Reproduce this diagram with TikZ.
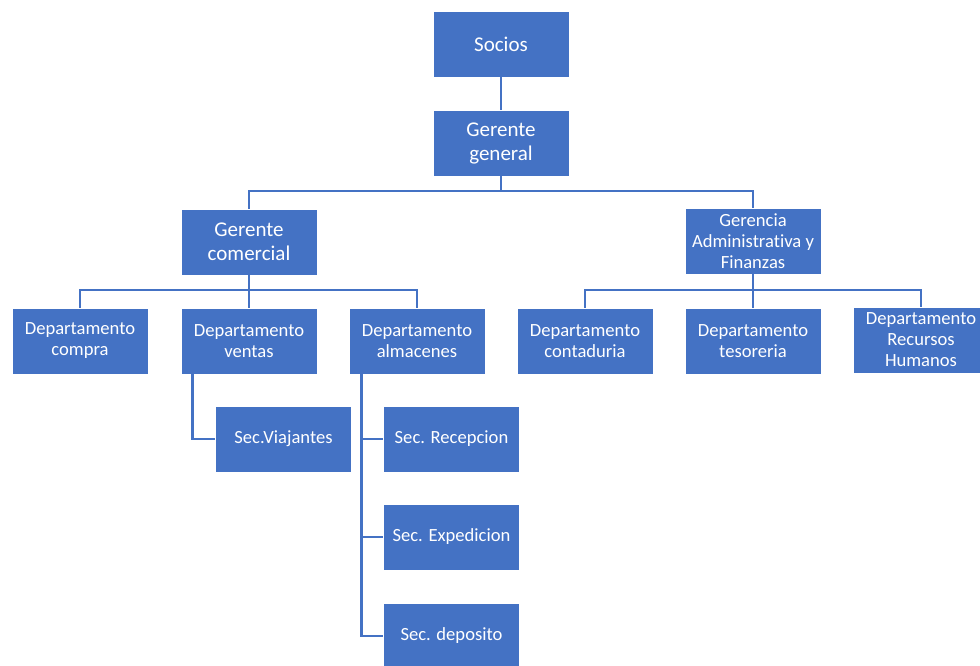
\documentclass[tikz,border=0pt]{standalone}
\usepackage{fontspec}
\setmainfont[Ligatures=NoCommon]{Carlito}
\definecolor{boxblue}{HTML}{4472C4}
\definecolor{lineblue}{HTML}{4472C4}
\begin{document}
\begin{tikzpicture}[x=1pt,y=1pt,
  box/.style={fill=boxblue, draw=white, line width=0.6pt, text=white, minimum width=136pt, minimum height=66pt, inner sep=0pt, align=center, font=\fontsize{18.6}{21}\selectfont},
  bigbox/.style={box, font=\fontsize{21}{24}\selectfont},
  conn/.style={draw=lineblue, line width=2.8pt}]
\useasboundingbox (0,0) rectangle (980,665);
% nodes
\node[bigbox] (socios) at (501,621) {Socios};
\node[bigbox] (gg) at (501,522) {Gerente\\general};
\node[bigbox] (gc) at (249,423) {Gerente\\comercial};
\node[box] (ga) at (753,424) {Gerencia\\Administrativa y\\Finanzas};
\node[box] (dc) at (80,324) {Departamento\\compra};
\node[box] (dv) at (249,324) {Departamento\\ventas};
\node[box] (da) at (417,324) {Departamento\\almacenes};
\node[box] (dco) at (585,324) {Departamento\\contaduria};
\node[box] (dt) at (753,324) {Departamento\\tesoreria};
\node[box] (dr) at (921,325) {Departamento\\Recursos\\Humanos};
\node[box] (sv) at (283.5,226) {Sec.Viajantes};
\node[box] (sr) at (451.5,226) {Sec. Recepcion};
\node[box] (se) at (451.5,128) {Sec. Expedicion};
\node[box] (sd) at (451.5,29) {Sec. deposito};
% connectors
\draw[conn] (socios.south) -- (gg.north);
\coordinate (busA) at (0,474);
\coordinate (busB) at (0,375);
\draw[conn] (gg.south) -- (gg.south |- busA);
\draw[conn] (gc.north) |- (ga.north |- busA) -- (ga.north);
\draw[conn] (gc.south) -- (gc.south |- busB);
\draw[conn] (dc.north) |- (da.north |- busB) -- (da.north);
\draw[conn] (dv.north) -- (dv.north |- busB);
\draw[conn] (ga.south) -- (ga.south |- busB);
\draw[conn] (dco.north) |- (dr.north |- busB) -- (dr.north);
\draw[conn] (dt.north) -- (dt.north |- busB);
\draw[conn] ([xshift=12pt]dv.south west) |- (sv.west);
\draw[conn] ([xshift=13pt]da.south west) |- (sd.west);
\draw[conn] ([xshift=13pt]da.south west |- sr.west) -- (sr.west);
\draw[conn] ([xshift=13pt]da.south west |- se.west) -- (se.west);
\end{tikzpicture}
\end{document}
